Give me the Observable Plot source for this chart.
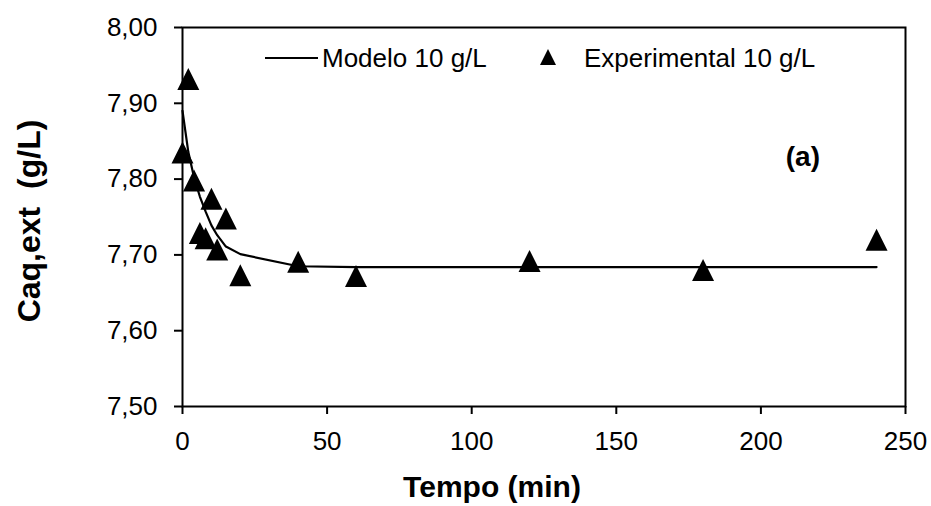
<!DOCTYPE html>
<html>
<head>
<meta charset="utf-8">
<script src="https://cdn.jsdelivr.net/npm/d3@7"></script>
<script src="https://cdn.jsdelivr.net/npm/@observablehq/plot@0.6"></script>
<style>
  html, body { margin: 0; padding: 0; background: #fff; }
  svg { font-family: "Liberation Sans", Arial, sans-serif; }
</style>
</head>
<body>
<div id="chart"></div>
<script>
// ---- data ----
const expTime = [0, 2, 4, 6, 8, 10, 12, 15, 20, 40, 60, 120, 180, 240];
const expConc = [7.835, 7.932, 7.798, 7.729, 7.722, 7.774, 7.707, 7.748, 7.673, 7.691, 7.672, 7.692, 7.680, 7.720];

const modelTime = [0, 2, 4, 6, 8, 10, 12, 15, 20, 40, 60, 120, 180, 240];
const modelConc = [7.890, 7.836, 7.802, 7.777, 7.757, 7.739, 7.726, 7.711, 7.701, 7.685, 7.684, 7.684, 7.684, 7.684];

const xTicks = [0, 50, 100, 150, 200, 250];
const xTickLabels = ["0", "50", "100", "150", "200", "250"];
const yTicks = [7.5, 7.6, 7.7, 7.8, 7.9, 8.0];
const yTickLabels = ["7,50", "7,60", "7,70", "7,80", "7,90", "8,00"];

const seriesModel = "Modelo 10 g/L";
const seriesExp = "Experimental 10 g/L";
const xTitle = "Tempo (min)";
const yTitle = "Caq,ext  (g/L)";
const panelTag = "(a)";

const expData = expTime.map((t, i) => ({t, c: expConc[i]}));
const modelData = modelTime.map((t, i) => ({t, c: modelConc[i]}));

// square-bounded triangle marker (Excel-like)
const tri = {
  draw(ctx, size) {
    const h = Math.sqrt(size);
    ctx.moveTo(0, -h / 2);
    ctx.lineTo(h / 2, h / 2);
    ctx.lineTo(-h / 2, h / 2);
    ctx.closePath();
  }
};
const markerSide = 22;

const chart = Plot.plot({
  width: 931,
  height: 506,
  marginLeft: 182,
  marginRight: 26,
  marginTop: 27,
  marginBottom: 100,
  style: {fontFamily: "Liberation Sans, Arial, sans-serif", fontSize: "26px", color: "black", background: "white"},
  x: {domain: [0, 250]},
  y: {domain: [7.5, 8.0]},
  marks: [
    Plot.frame({stroke: "black", strokeWidth: 2}),
    Plot.axisX({ticks: xTicks, tickFormat: d => xTickLabels[xTicks.indexOf(d)], tickSize: 8, tickPadding: 17,
                strokeWidth: 2, fontSize: 26, label: null}),
    Plot.axisY({ticks: yTicks, tickFormat: d => yTickLabels[yTicks.indexOf(d)], tickSize: 8, tickPadding: 17,
                strokeWidth: 2, fontSize: 26, label: null}),
    Plot.line(modelData, {x: "t", y: "c", stroke: "black", strokeWidth: 2.2}),
    Plot.dot(expData, {x: "t", y: "c", symbol: tri, r: markerSide / Math.sqrt(Math.PI), fill: "black", stroke: "none"})
  ]
});

document.getElementById("chart").append(chart);

// ---- annotations: legend, panel tag, axis titles ----
const svg = d3.select(chart);
const g = svg.append("g").attr("fill", "black");

g.append("line").attr("x1", 265).attr("x2", 318).attr("y1", 58).attr("y2", 58)
  .attr("stroke", "black").attr("stroke-width", 2.2);
g.append("text").attr("x", 322).attr("y", 67).attr("text-anchor", "start")
  .attr("font-size", 26).text(seriesModel);
g.append("path").attr("transform", "translate(548,57)")
  .attr("d", d3.symbol(tri, 16 * 16)());
g.append("text").attr("x", 584).attr("y", 67).attr("text-anchor", "start")
  .attr("font-size", 26).text(seriesExp);

g.append("text").attr("x", 820).attr("y", 166).attr("text-anchor", "end")
  .attr("font-size", 28).attr("font-weight", "bold").text(panelTag);

g.append("text").attr("x", 492).attr("y", 497).attr("text-anchor", "middle")
  .attr("font-size", 30).attr("font-weight", "bold").text(xTitle);

g.append("text").attr("transform", "translate(40,221) rotate(-90)").attr("text-anchor", "middle")
  .attr("font-size", 32).attr("font-weight", "bold").style("white-space", "pre").text(yTitle);
</script>
</body>
</html>
